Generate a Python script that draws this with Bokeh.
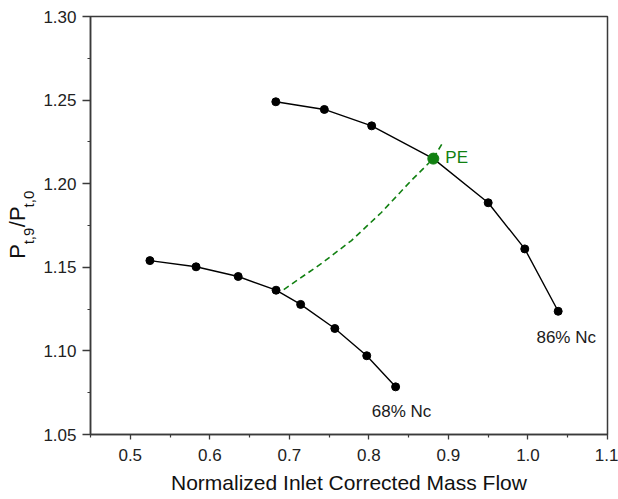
import math
from bokeh.plotting import figure
from bokeh.models import Range1d, FixedTicker, Label
from bokeh.layouts import row
from bokeh.embed import file_html
from bokeh.resources import INLINE

# ---- data ----
x86 = [0.683, 0.744, 0.8035, 0.881, 0.950, 0.996, 1.038]
y86 = [1.249, 1.2444, 1.2346, 1.215, 1.1886, 1.161, 1.1237]

x68 = [0.5247, 0.5827, 0.6357, 0.6833, 0.7142, 0.7572, 0.7973, 0.8336]
y68 = [1.154, 1.1503, 1.1445, 1.1363, 1.1278, 1.1134, 1.0971, 1.0785]

pe_x = [0.881]
pe_y = [1.215]

op_line_x = [0.693, 0.7405, 0.7781, 0.8157, 0.8533, 0.881, 0.8921]
op_line_y = [1.1367, 1.1523, 1.1660, 1.1828, 1.2019, 1.215, 1.2240]

x_ticks = [0.5, 0.6, 0.7, 0.8, 0.9, 1.0, 1.1]
x_tick_labels = ["0.5", "0.6", "0.7", "0.8", "0.9", "1.0", "1.1"]
x_minor = [0.45, 0.55, 0.65, 0.75, 0.85, 0.95, 1.05]
y_ticks = [1.05, 1.10, 1.15, 1.20, 1.25, 1.30]
y_tick_labels = ["1.05", "1.10", "1.15", "1.20", "1.25", "1.30"]
y_minor = [1.075, 1.125, 1.175, 1.225, 1.275]

FONT = "Liberation Sans"
FRAME = "#3a3a3a"
GREEN = "#118011"
LABW = 40

p = figure(width=618 - LABW, height=499,
           x_range=Range1d(0.45, 1.1), y_range=Range1d(1.05, 1.30),
           output_backend="svg", toolbar_location=None,
           min_border_left=88 - LABW, min_border_right=11,
           min_border_top=16, min_border_bottom=65)
p.xgrid.visible = False
p.ygrid.visible = False
p.outline_line_color = FRAME
p.outline_line_width = 1.5
p.outline_line_alpha = 1.0
p.background_fill_color = "white"
p.border_fill_color = "white"

# axes
p.xaxis.ticker = FixedTicker(ticks=x_ticks, minor_ticks=x_minor)
p.yaxis.ticker = FixedTicker(ticks=y_ticks, minor_ticks=y_minor)
p.xaxis.major_label_overrides = {t: l for t, l in zip(x_ticks, x_tick_labels)}
p.yaxis.major_label_overrides = {t: l for t, l in zip(y_ticks, y_tick_labels)}

for ax in (p.xaxis[0], p.yaxis[0]):
    ax.axis_line_color = FRAME
    ax.axis_line_width = 1.5
    ax.major_tick_line_color = FRAME
    ax.minor_tick_line_color = FRAME
    ax.major_tick_line_width = 1.3
    ax.minor_tick_line_width = 1.2
    ax.major_tick_in = 0
    ax.minor_tick_in = 0
    ax.minor_tick_out = 3
    ax.major_label_text_font = FONT
    ax.major_label_text_font_size = "17px"
    ax.major_label_text_color = "#222222"
p.xaxis.major_tick_out = 5
p.xaxis.major_label_standoff = 9
p.yaxis.major_tick_out = 8
p.yaxis.major_label_standoff = 6

p.xaxis.axis_label = "Normalized Inlet Corrected Mass Flow"
p.xaxis.axis_label_text_font = FONT
p.xaxis.axis_label_text_font_size = "21px"
p.xaxis.axis_label_text_font_style = "normal"
p.xaxis.axis_label_text_color = "#111111"
p.xaxis.axis_label_standoff = 7

# operating line (dashed green)
p.line(op_line_x, op_line_y, line_color=GREEN, line_width=1.6, line_dash="6 4")

# speed lines
p.line(x86, y86, line_color="black", line_width=1.4)
p.scatter(x86, y86, size=8, color="black")
p.line(x68, y68, line_color="black", line_width=1.4)
p.scatter(x68, y68, size=8, color="black")

# PE point
p.scatter(pe_x, pe_y, size=11, color=GREEN)

# annotations
p.add_layout(Label(x=pe_x[0], y=pe_y[0], x_offset=12, y_offset=1, text="PE",
                   text_font=FONT, text_font_size="17px", text_color=GREEN,
                   text_align="left", text_baseline="alphabetic"))
p.add_layout(Label(x=x86[-1], y=y86[-1], x_offset=8, y_offset=-26, text="86% Nc",
                   text_font=FONT, text_font_size="17px", text_color="#1a1a1a",
                   text_align="center", text_baseline="alphabetic"))
p.add_layout(Label(x=x68[-1], y=y68[-1], x_offset=6, y_offset=-25, text="68% Nc",
                   text_font=FONT, text_font_size="17px", text_color="#1a1a1a",
                   text_align="center", text_baseline="alphabetic"))

# y axis title P_{t,9}/P_{t,0} in a narrow text-only figure on the left
ylab = figure(width=LABW, height=499, x_range=Range1d(0, LABW), y_range=Range1d(0, 499),
              output_backend="svg", toolbar_location=None,
              x_axis_location=None, y_axis_location=None,
              min_border_left=0, min_border_right=0, min_border_top=0, min_border_bottom=0)
ylab.xgrid.visible = False
ylab.ygrid.visible = False
ylab.outline_line_color = None
ylab.background_fill_color = "white"
ylab.border_fill_color = "white"

# (text, centre x, centre y) in the label panel's own pixel space
pieces = [("P", 17.4, 218.5, "22px"), ("t,9", 27.8, 237, "15px"),
          ("/", 17.4, 251, "22px"), ("P", 17.4, 263.5, "22px"),
          ("t,0", 27.8, 281, "15px")]
for txt, xx, yy, fs in pieces:
    ylab.add_layout(Label(x=xx, y=yy, text=txt, angle=math.pi / 2,
                          text_font=FONT, text_font_size=fs,
                          text_color="#111111", text_align="center",
                          text_baseline="middle"))

layout = row(ylab, p)
open("out.html", "w").write(file_html(layout, INLINE))
